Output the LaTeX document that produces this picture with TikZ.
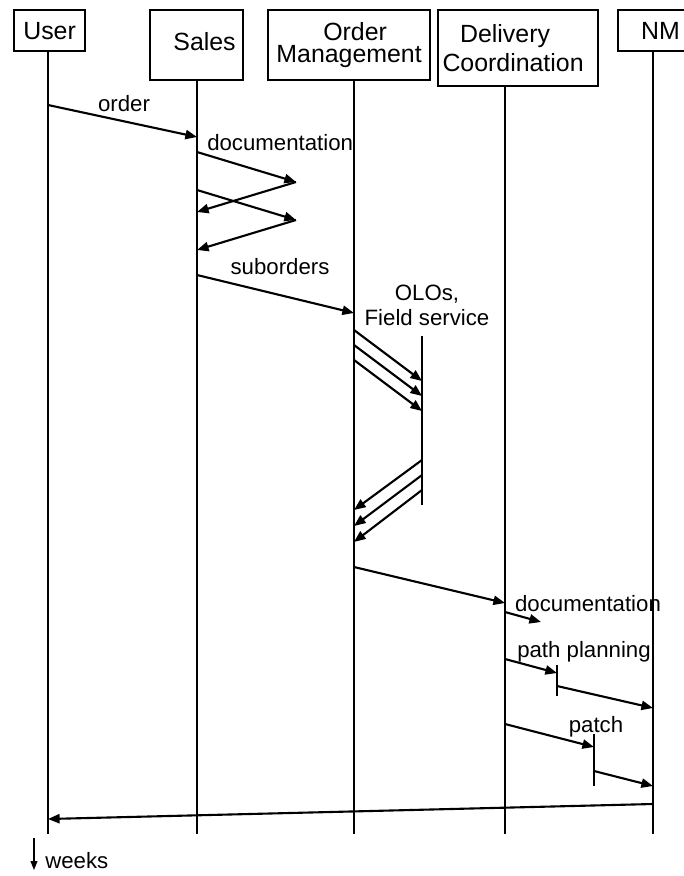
\documentclass[tikz,border=0pt]{standalone}
\usepackage{fontspec}
\setmainfont{Liberation Sans}
\usetikzlibrary{arrows.meta}

\begin{document}
\begin{tikzpicture}[x=0.025cm, y=-0.025cm,
    actor/.style={draw, line width=1.5pt, anchor=north west, align=center, inner sep=0pt, font=\fontsize{17.7}{16}\selectfont},
    life/.style={line width=1.5pt},
    msg/.style={-{Triangle[length=0.29cm, width=0.23cm]}, line width=1.5pt},
    lbl/.style={font=\fontsize{15.8}{17.7}\selectfont, inner sep=0pt}
]
\useasboundingbox (0,0) rectangle (684,876);

% actors
\node[actor, minimum width=1.775cm, minimum height=1.025cm] (user) at (13,9) {User};
\node[actor, minimum width=2.325cm, minimum height=1.75cm] (sales) at (149,9) {\hspace*{0.4cm}\raisebox{0.2cm}{Sales}};
\node[actor, minimum width=4.05cm, minimum height=1.75cm] (om) at (267,9) {\hspace*{0.3cm}Order\\Management};
\node[actor, minimum width=4.0cm, minimum height=1.9cm] (dc) at (437,9) {Delivery\hspace*{0.65cm}\\[3pt]Coordination\hspace*{0.25cm}};
\node[actor, minimum width=2.125cm, minimum height=1.025cm] (nm) at (617,9) {NM};

% lifelines
\coordinate (userB) at (48,834);
\coordinate (salesB) at (197,834);
\coordinate (omB) at (354,834);
\coordinate (dcB) at (505,834);
\coordinate (nmB) at (653,834);
\coordinate (oloT) at (422,336);
\coordinate (oloB) at (422,505);
\draw[life] (user.south -| userB) -- (userB);
\draw[life] (sales.south -| salesB) -- (salesB);
\draw[life] (om.south -| omB) -- (omB);
\draw[life] (dc.south -| dcB) -- (dcB);
\draw[life] (nm.south -| nmB) -- (nmB);
\draw[life] (oloT) -- (oloB);

% message ends
\coordinate (ord1) at (48,105);   \coordinate (ord2) at (197,137);
\coordinate (dA1) at (197,152);   \coordinate (dA2) at (296,182);  \coordinate (dA3) at (197,212);
\coordinate (dB1) at (197,190);   \coordinate (dB2) at (296,220);  \coordinate (dB3) at (197,250);
\coordinate (sub1) at (197,275);  \coordinate (sub2) at (354,313);
\coordinate (fw1) at (354,330);   \coordinate (fw1e) at (422,381);
\coordinate (fw2) at (354,345);   \coordinate (fw2e) at (422,396);
\coordinate (fw3) at (354,360);   \coordinate (fw3e) at (422,411);
\coordinate (bk1) at (422,460);   \coordinate (bk1e) at (354,510);
\coordinate (bk2) at (422,475);   \coordinate (bk2e) at (354,526);
\coordinate (bk3) at (422,490);   \coordinate (bk3e) at (354,542);
\coordinate (od1) at (354,567);   \coordinate (od2) at (505,603);
\coordinate (dd1) at (505,612);   \coordinate (dd2) at (541,622);
\coordinate (pp1) at (505,659);   \coordinate (pp2) at (557,673);
\coordinate (ppT) at (557,665);   \coordinate (ppB) at (557,696);
\coordinate (pp3) at (557,686);   \coordinate (pp4) at (653,708);
\coordinate (pa1) at (505,724);   \coordinate (pa2) at (594,747);
\coordinate (paT) at (594,734);   \coordinate (paB) at (594,786);
\coordinate (pa3) at (594,771);   \coordinate (pa4) at (653,786);
\coordinate (ret1) at (653,804);  \coordinate (ret2) at (48,819);
\coordinate (wk1) at (34,838);    \coordinate (wk2) at (34,870);

% messages
\draw[msg] (ord1) -- (ord2);
\draw[msg] (dA1) -- (dA2);
\draw[msg] (dA2) -- (dA3);
\draw[msg] (dB1) -- (dB2);
\draw[msg] (dB2) -- (dB3);
\draw[msg] (sub1) -- (sub2);
\draw[msg] (fw1) -- (fw1e);
\draw[msg] (fw2) -- (fw2e);
\draw[msg] (fw3) -- (fw3e);
\draw[msg] (bk1) -- (bk1e);
\draw[msg] (bk2) -- (bk2e);
\draw[msg] (bk3) -- (bk3e);
\draw[msg] (od1) -- (od2);
\draw[msg] (dd1) -- (dd2);
\draw[msg] (pp1) -- (pp2);
\draw[life] (ppT) -- (ppB);
\draw[msg] (pp3) -- (pp4);
\draw[msg] (pa1) -- (pa2);
\draw[life] (paT) -- (paB);
\draw[msg] (pa3) -- (pa4);
\draw[msg] (ret1) -- (ret2);
\draw[-{Triangle[length=0.22cm, width=0.17cm]}, line width=0.9pt] (wk1) -- (wk2);

% labels
\node[lbl] (ordL) at (124,104) {order};
\node[lbl, anchor=west] (docL) at (207,143) {documentation};
\node[lbl] (subL) at (280,267) {suborders};
\node[lbl, align=center] (oloL) at (427,305) {OLOs,\\Field service};
\node[lbl] (doc2L) at (588,604) {documentation};
\node[lbl] (pathL) at (584,652) {path planning};
\node[lbl] (patchL) at (596,727) {patch};
\node[lbl, anchor=west] (weekL) at (45,861) {weeks};
\end{tikzpicture}
\end{document}
